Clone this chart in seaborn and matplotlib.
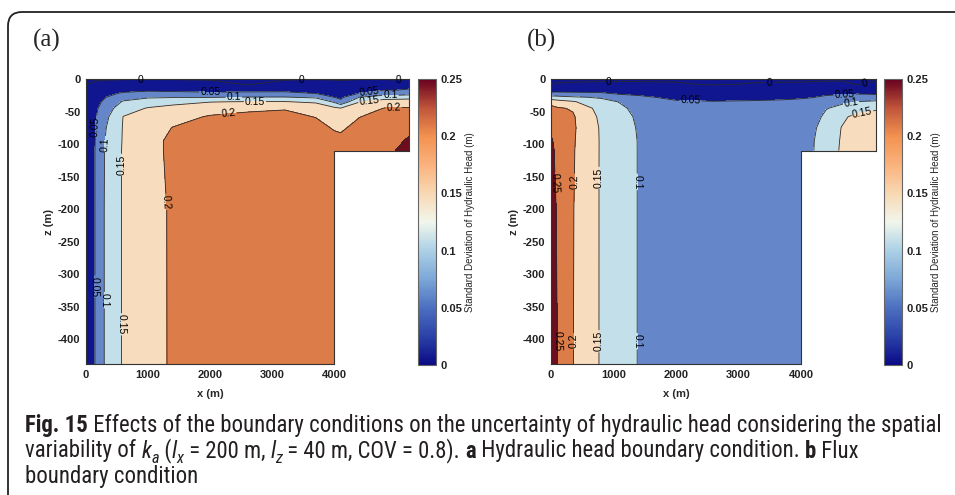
import numpy as np
import matplotlib
matplotlib.use("Agg")
import matplotlib.pyplot as plt
import seaborn as sns
from matplotlib import font_manager
from matplotlib.font_manager import FontProperties
from matplotlib.colors import Normalize
from matplotlib.cm import ScalarMappable
from matplotlib.patches import FancyBboxPatch
from matplotlib.transforms import IdentityTransform, blended_transform_factory

# ------------------------------------------------------------------ data
LEVELS = [0, 0.05, 0.1, 0.15, 0.2, 0.25]
CBAR_TICKS = [0, 0.05, 0.1, 0.15, 0.2, 0.25]
CBAR_TICK_LABELS = ["0", "0.05", "0.1", "0.15", "0.2", "0.25"]
X_TICKS = [0, 1000, 2000, 3000, 4000]
Z_TICKS = [0, -50, -100, -150, -200, -250, -300, -350, -400]
X_MAX = 5200
Z_MIN = -438
STEP_X = 4000
STEP_Z = -110

Z_NODES = [0, -8, -16, -22, -28, -35, -45, -58, -75, -95, -110, -200, -438]

# (a) hydraulic head boundary condition: std. dev. of head (m) at nodes
X_NODES_A = [0, 150, 300, 600, 1000, 1400, 2000, 2600, 3200, 3700, 4000, 4100, 4400, 4800, 5000, 5200]
SD_A = [
    [-0.003] * 16,
    [-0.001, 0.004, 0.01, 0.018, 0.02, 0.02, 0.01, -0.002, 0.01, 0.02, 0.012, 0.008, 0.02, 0.025, 0.01, 0.03],
    [0.003, 0.02, 0.03, 0.035, 0.042, 0.04, 0.037, 0.036, 0.038, 0.036, 0.025, 0.018, 0.038, 0.045, 0.045, 0.052],
    [0.004, 0.026, 0.038, 0.055, 0.06, 0.058, 0.056, 0.058, 0.058, 0.049, 0.037, 0.028, 0.051, 0.075, 0.075, 0.08],
    [0.004, 0.031, 0.047, 0.08, 0.095, 0.097, 0.098, 0.102, 0.102, 0.092, 0.049, 0.04, 0.1, 0.125, 0.125, 0.13],
    [0.004, 0.036, 0.057, 0.105, 0.125, 0.135, 0.148, 0.152, 0.152, 0.142, 0.092, 0.062, 0.148, 0.175, 0.18, 0.18],
    [0.004, 0.041, 0.072, 0.13, 0.153, 0.165, 0.185, 0.196, 0.198, 0.185, 0.16, 0.152, 0.18, 0.201, 0.203, 0.203],
    [0.004, 0.046, 0.085, 0.151, 0.168, 0.188, 0.203, 0.205, 0.208, 0.199, 0.185, 0.18, 0.199, 0.212, 0.212, 0.213],
    [0.004, 0.049, 0.095, 0.153, 0.185, 0.201, 0.208, 0.212, 0.214, 0.21, 0.197, 0.195, 0.21, 0.218, 0.22, 0.23],
    [0.004, 0.051, 0.099, 0.154, 0.192, 0.205, 0.21, 0.216, 0.218, 0.216, 0.21, 0.208, 0.218, 0.225, 0.236, 0.26],
    [0.004, 0.052, 0.1005, 0.155, 0.192, 0.205, 0.211, 0.218, 0.22, 0.218, 0.216, 0.218, 0.222, 0.23, 0.252, 0.28],
    [0.004, 0.052, 0.102, 0.155, 0.185, 0.205, 0.212, 0.22, 0.22, 0.22, 0.22, 0.22, 0.22, 0.22, 0.22, 0.22],
    [0.004, 0.052, 0.102, 0.155, 0.181, 0.206, 0.212, 0.22, 0.22, 0.22, 0.22, 0.22, 0.22, 0.22, 0.22, 0.22],
]

# (b) flux boundary condition
X_NODES_B = [0, 100, 350, 800, 1100, 1400, 2000, 2600, 3200, 3700, 4000, 4200, 4400, 4650, 4900, 5200]
SD_B = [
    [-0.003] * 16,
    [-0.0005, 0.001, 0.002, 0.003, 0.003, 0.003, 0.002, -0.002, 0.001, 0.002, 0.002, 0.003, 0.004, 0.005, -0.001, 0.005],
    [0.03, 0.03, 0.03, 0.03, 0.028, 0.025, 0.015, 0.012, 0.013, 0.015, 0.016, 0.018, 0.025, 0.03, 0.03, 0.025],
    [0.06, 0.06, 0.058, 0.055, 0.043, 0.04, 0.025, 0.022, 0.024, 0.026, 0.028, 0.032, 0.04, 0.045, 0.045, 0.042],
    [0.12, 0.115, 0.105, 0.095, 0.07, 0.058, 0.04, 0.036, 0.038, 0.042, 0.046, 0.049, 0.058, 0.062, 0.075, 0.07],
    [0.18, 0.17, 0.155, 0.115, 0.098, 0.075, 0.055, 0.052, 0.054, 0.056, 0.058, 0.062, 0.075, 0.09, 0.101, 0.108],
    [0.215, 0.205, 0.196, 0.13, 0.108, 0.088, 0.068, 0.064, 0.064, 0.064, 0.065, 0.072, 0.097, 0.115, 0.135, 0.145],
    [0.23, 0.222, 0.205, 0.14, 0.114, 0.094, 0.074, 0.069, 0.068, 0.067, 0.068, 0.08, 0.112, 0.143, 0.16, 0.165],
    [0.243, 0.232, 0.207, 0.145, 0.117, 0.097, 0.077, 0.071, 0.07, 0.068, 0.072, 0.092, 0.125, 0.151, 0.17, 0.175],
    [0.255, 0.238, 0.205, 0.146, 0.119, 0.0985, 0.079, 0.072, 0.07, 0.068, 0.078, 0.098, 0.13, 0.153, 0.172, 0.18],
    [0.26, 0.24, 0.204, 0.146, 0.12, 0.0985, 0.08, 0.072, 0.07, 0.068, 0.082, 0.099, 0.132, 0.154, 0.173, 0.18],
    [0.27, 0.246, 0.202, 0.146, 0.12, 0.0985, 0.08, 0.072, 0.07, 0.068, 0.067, 0.067, 0.067, 0.067, 0.067, 0.067],
    [0.27, 0.251, 0.201, 0.146, 0.12, 0.0985, 0.08, 0.072, 0.07, 0.068, 0.067, 0.067, 0.067, 0.067, 0.067, 0.067],
]

# contour-label anchor points (x, z) per level
LABELS_A = {
    0: [(870, -1), (3470, -1), (5030, -2)],
    0.05: [(2000, -20), (4560, -19), (150, -73), (147, -319)],
    0.1: [(2380, -28), (4900, -25), (295, -100), (294, -340)],
    0.15: [(2720, -35), (4560, -33), (572, -132), (572, -377)],
    0.2: [(2300, -55), (4950, -43), (1300, -189)],
}
LABELS_B = {
    0: [(915, -1), (3490, -1), (5010, -3)],
    0.05: [(2230, -33), (4700, -23)],
    0.1: [(4800, -37), (1375, -158), (1375, -403)],
    0.15: [(4980, -51), (767, -152), (767, -403)],
    0.2: [(358, -158), (358, -403)],
    0.25: [(70, -160), (100, -403)],
}

CBAR_LABEL = "Standard Deviation of Hydraulic Head (m)"
CAPTION = [
    [("Fig. 15", "bold"),
     (" Effects of the boundary conditions on the uncertainty of hydraulic head considering the spatial", "normal")],
    [("variability of ", "normal"), ("k", "italic"), ("a", "italic-sub"), (" (", "normal"),
     ("l", "italic"), ("x", "italic-sub"), (" = 200 m, ", "normal"), ("l", "italic"), ("z", "italic-sub"),
     (" = 40 m, COV = 0.8). ", "normal"), ("a", "bold"), (" Hydraulic head boundary condition. ", "normal"),
     ("b", "bold"), (" Flux", "normal")],
    [("boundary condition", "normal")],
]

# ------------------------------------------------------------------ style
sns.set_theme(style="ticks")
plt.rcParams["font.family"] = ["Liberation Sans", "DejaVu Sans"]
plt.rcParams["axes.edgecolor"] = "#333333"

BAND_COLORS = ["#10168f", "#10168f", "#6586c8", "#c3dfe9", "#f7dcbd", "#dc7d49", "#6c0e1e"]
CBAR_CMAP = sns.blend_palette(
    ["#0b0b86", "#2b42a8", "#4c70c0", "#7ca7d7", "#acd0e6", "#f1f6ec",
     "#f8d8b3", "#fab27d", "#f39250", "#c0553a", "#67001f"], n_colors=256, as_cmap=True)

W, H = 955, 495
fig = plt.figure(figsize=(W / 100, H / 100), dpi=100, facecolor="white")


def rect(l, t, r, b):
    return [l / W, 1 - b / H, (r - l) / W, (b - t) / H]


def fx(x):
    return x / W


def fy(y):
    return 1 - y / H


fmt = lambda v: f"{v:g}"


def panel(ax_box, cax_box, xnodes, sd, labels, tag, tag_x, cbar_label_x):
    ax = fig.add_axes(rect(*ax_box))
    xg, zg = np.meshgrid(np.array(xnodes, float), np.array(Z_NODES, float))
    data = np.ma.array(np.array(sd, float), mask=(xg > STEP_X) & (zg < STEP_Z))
    ax.contourf(xg, zg, data, levels=LEVELS, colors=BAND_COLORS, extend="both",
                corner_mask=False)
    ax.set_xlim(0, X_MAX)
    ax.set_ylim(Z_MIN, 0)
    for lev in LEVELS:
        cs = ax.contour(xg, zg, data, levels=[lev], colors="#2a2a2a", linewidths=0.6,
                        corner_mask=False)
        if lev in labels:
            texts = ax.clabel(cs, manual=labels[lev], inline=True, inline_spacing=1,
                              fontsize=7.5, fmt=fmt, colors="black")
            for t in texts:
                t.set_clip_on(False)
    ax.set_xlim(0, X_MAX)
    ax.set_ylim(Z_MIN, 0)
    ax.set_xticks(X_TICKS, labels=[str(v) for v in X_TICKS])
    ax.set_yticks(Z_TICKS, labels=[str(v) for v in Z_TICKS])
    ax.tick_params(direction="in", length=3, width=0.6, top=True, right=False,
                   labelsize=8, pad=4, colors="#222222")
    for lab in ax.get_xticklabels() + ax.get_yticklabels():
        lab.set_fontweight("bold")
    for s in ax.spines.values():
        s.set_linewidth(0.8)
        s.set_color("#333333")
    ax.spines["bottom"].set_bounds(0, STEP_X)
    ax.spines["right"].set_bounds(STEP_Z, 0)
    ax.plot([STEP_X, X_MAX], [STEP_Z, STEP_Z], color="#333333", lw=0.8, clip_on=False, zorder=5)
    ax.plot([STEP_X, STEP_X], [Z_MIN, STEP_Z], color="#333333", lw=0.8, clip_on=False, zorder=5)
    tr = blended_transform_factory(ax.transData, fig.transFigure)
    ax.text(STEP_X / 2, fy(394), "x (m)", transform=tr, ha="center", va="center",
            fontsize=8, fontweight="bold")
    fig.text(fx(ax_box[0] - 37), fy(222), "z (m)", rotation=90, ha="center", va="center",
             fontsize=8, fontweight="bold")

    cax = fig.add_axes(rect(*cax_box))
    cb = fig.colorbar(ScalarMappable(norm=Normalize(0, 0.25), cmap=CBAR_CMAP), cax=cax,
                      ticks=CBAR_TICKS)
    cb.ax.set_yticklabels(CBAR_TICK_LABELS)
    cb.outline.set_edgecolor("#666666")
    cb.outline.set_linewidth(0.8)
    cax.tick_params(direction="in", length=3, width=0.6, labelsize=8, pad=3, colors="#222222")
    for lab in cax.get_yticklabels():
        lab.set_fontweight("bold")
    fig.text(fx(cbar_label_x), fy(222), CBAR_LABEL, rotation=90, ha="center", va="center",
             fontsize=7)
    fig.text(fx(tag_x), fy(40), tag, ha="center", va="center", fontsize=18,
             family=["Liberation Serif", "DejaVu Serif"])


panel((86, 79, 409, 364), (418, 79, 436, 365), X_NODES_A, SD_A, LABELS_A, "(a)", 47, 470)
panel((551, 79, 876, 364), (884, 79, 902, 365), X_NODES_B, SD_B, LABELS_B, "(b)", 542, 936)

# ------------------------------------------------------------------ frame
frame = FancyBboxPatch((8, -40), 1000, (H - 12) + 40, boxstyle="round,pad=0,rounding_size=14",
                       transform=IdentityTransform(), fill=False, edgecolor="#222222",
                       linewidth=1.3)
fig.add_artist(frame)

# ------------------------------------------------------------------ caption
names = {f.name for f in font_manager.fontManager.ttflist}
if "Liberation Sans Narrow" in names:
    CAP_FAMILY, CAP_STRETCH = "Liberation Sans Narrow", "normal"
elif "Roboto Condensed" in names:
    CAP_FAMILY, CAP_STRETCH = "Roboto Condensed", "normal"
else:
    CAP_FAMILY, CAP_STRETCH = "DejaVu Sans", "condensed"

renderer = fig.canvas.get_renderer()


def prop(kind, size):
    return FontProperties(family=CAP_FAMILY, stretch=CAP_STRETCH,
                          weight="bold" if kind == "bold" else "normal",
                          style="italic" if kind.startswith("italic") else "normal",
                          size=size * 0.72 if kind.endswith("sub") else size)


def run_width(s, p):
    w1, _, _ = renderer.get_text_width_height_descent("|" + s + "|", p, ismath=False)
    w0, _, _ = renderer.get_text_width_height_descent("||", p, ismath=False)
    return w1 - w0


base = 12.0
w_line1 = sum(run_width(s, prop(k, base)) for s, k in CAPTION[0])
cap_size = base * 915.0 / w_line1

for line, base_y in zip(CAPTION, [432, 457.5, 483]):
    x = 25.0
    for s, k in line:
        p = prop(k, cap_size)
        dy = cap_size * 100 / 72 * 0.22 if k.endswith("sub") else 0.0
        fig.text(fx(x), fy(base_y + dy), s, fontproperties=p, ha="left", va="baseline",
                 color="#231f20")
        x += run_width(s, p)

fig.savefig("out.png", dpi=100, facecolor="white")
